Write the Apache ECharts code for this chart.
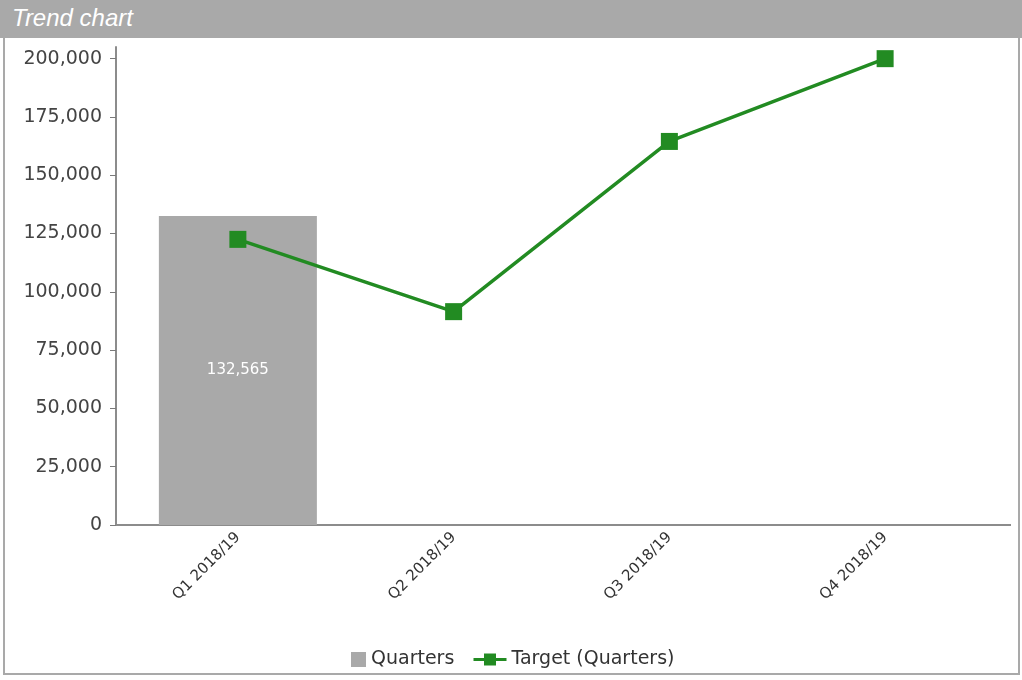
<!DOCTYPE html>
<html>
<head>
<meta charset="utf-8">
<title>Trend chart</title>
<script src="https://cdn.jsdelivr.net/npm/echarts@6/dist/echarts.min.js"></script>
<style type="text/css">
	body{
		margin: 0;
		background: #ffffff;
	}
	#frame{
		position: absolute;
		left: 3px;
		top: 0;
		width: 1017px;
		height: 675px;
		border-left: 2px solid #a9a9a9;
		border-bottom: 2px solid #a9a9a9;
		border-right: 2px solid #a9a9a9;
		box-sizing: border-box;
	}
	#header{
		position: absolute;
		left: 0;
		top: 0;
		width: 1022px;
		height: 38px;
		background: #a9a9a9;
	}
	#header span{
		position: absolute;
		left: 12px;
		top: 4px;
		font-family: "Liberation Sans", Arial, sans-serif;
		font-style: italic;
		font-size: 24px;
		color: #ffffff;
	}
	#chartContainer{
		position: absolute;
		left: 0;
		top: 0;
		width: 1022px;
		height: 680px;
	}
</style>
</head>
<body>
	<div id="frame"></div>
	<div id="header"><span>Trend chart</span></div>
	<div id="chartContainer"></div>
<script type="text/javascript">
	var quarterList = ["Q1 2018/19", "Q2 2018/19", "Q3 2018/19", "Q4 2018/19"];
	var quarterValues = [132565, null, null, null];
	var targetValues = [122500, 91500, 164500, 200000];
	var yTicks = [0, 25000, 50000, 75000, 100000, 125000, 150000, 175000, 200000];

	var grey = '#a9a9a9';
	var green = '#228b22';
	var font = 'DejaVu Sans';

	function fmt(v){
		return v.toString().replace(/\B(?=(\d{3})+(?!\d))/g, ',');
	}

	var myChart = echarts.init(document.getElementById('chartContainer'));
	var option = {
		animation: false,
		textStyle: { fontFamily: font },
		grid: {
			left: 130,
			right: 29,
			top: 47,
			bottom: 155
		},
		legend: [{
			data: [{ name: 'Quarters', icon: 'rect' }],
			left: 346,
			top: 645,
			itemWidth: 15,
			itemHeight: 15,
			textStyle: { fontSize: 19, color: '#333', fontFamily: font }
		}, {
			data: [{ name: 'Target (Quarters)', lineStyle: { width: 3 } }],
			left: 467,
			top: 645,
			itemWidth: 33,
			itemHeight: 15,
			textStyle: { fontSize: 19, color: '#333', fontFamily: font }
		}],
		xAxis: {
			type: 'category',
			data: quarterList,
			axisLine: { lineStyle: { color: '#8c8c8c', width: 2 } },
			axisTick: { alignWithLabel: true, length: 6, lineStyle: { color: '#8c8c8c', width: 1 } },
			axisLabel: {
				rotate: 45,
				fontSize: 15,
				color: '#333',
				margin: 10,
				fontFamily: font
			}
		},
		yAxis: {
			type: 'value',
			min: 0,
			max: 205000,
			offset: 14,
			splitLine: { show: false },
			axisLine: { show: true, lineStyle: { color: '#8c8c8c', width: 2 } },
			axisTick: { show: true, length: 6, customValues: yTicks, lineStyle: { color: '#7a7a7a', width: 1 } },
			axisLabel: {
				customValues: yTicks,
				fontSize: 19,
				color: '#444',
				margin: 14,
				fontFamily: font,
				formatter: function(v){ return fmt(v); }
			}
		},
		graphic: [{
			type: 'line',
			shape: { x1: 116, y1: 525, x2: 131, y2: 525 },
			style: { stroke: '#8c8c8c', lineWidth: 2 }
		}, {
			type: 'line',
			shape: { x1: 992, y1: 525, x2: 1011, y2: 525 },
			style: { stroke: '#8c8c8c', lineWidth: 2 }
		}],
		series: [{
			name: 'Quarters',
			type: 'bar',
			data: quarterValues,
			barWidth: 158,
			itemStyle: { color: grey },
			label: {
				show: true,
				position: 'inside',
				color: '#ffffff',
				fontSize: 15,
				fontFamily: font,
				formatter: function(p){ return fmt(p.value); }
			}
		}, {
			name: 'Target (Quarters)',
			type: 'line',
			data: targetValues,
			symbol: 'rect',
			symbolSize: 17,
			itemStyle: { color: green },
			lineStyle: { color: green, width: 3.5 }
		}]
	};
	myChart.setOption(option);
</script>
</body>
</html>
